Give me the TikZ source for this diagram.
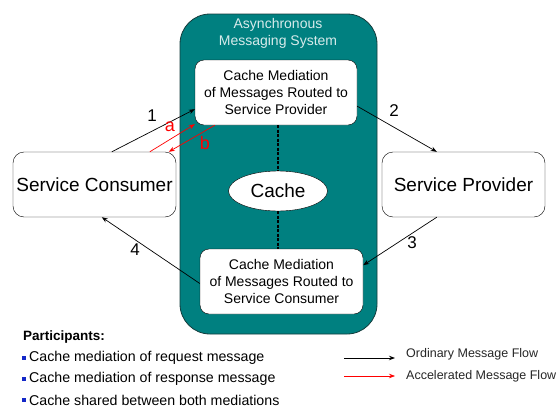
\documentclass[tikz,border=0pt]{standalone}
\usepackage{fontspec}
\setmainfont{Liberation Sans}
\usetikzlibrary{arrows.meta,calc,shapes.geometric}
\definecolor{sysfill}{RGB}{0,128,128}
\definecolor{sysedge}{RGB}{20,60,60}
\definecolor{systext}{RGB}{215,235,235}
\definecolor{bulletblue}{RGB}{20,40,200}
\begin{document}
\begin{tikzpicture}[x=1pt,y=-1pt,
  flow/.style={-{Stealth[length=6pt,width=4.5pt]}, line width=0.7pt},
  fast/.style={flow, red},
  medbox/.style={draw=black, fill=white, rounded corners=9pt, minimum width=162pt,
    minimum height=65pt, align=center, inner sep=0pt,
    font=\fontsize{14}{17}\selectfont},
  svcbox/.style={draw=black, fill=white, rounded corners=11pt, minimum width=163pt,
    minimum height=65pt, inner sep=0pt, font=\fontsize{19}{22}\selectfont},
  numlabel/.style={font=\fontsize{17}{20}\selectfont, inner sep=0pt},
  letlabel/.style={font=\fontsize{18}{20}\selectfont, text=red, inner sep=0pt},
  legtext/.style={anchor=west, inner sep=0pt, font=\fontsize{12.5}{15}\selectfont, text=black!85},
  parttext/.style={anchor=west, inner sep=0pt, font=\fontsize{14.2}{16}\selectfont},
  bullet/.style={fill=bulletblue, inner sep=0pt, minimum size=4pt}
]
\useasboundingbox (0,0) rectangle (558,407);

% messaging system container
\node[draw=sysedge, line width=0.8pt, fill=sysfill, rounded corners=30pt,
  minimum width=197pt, minimum height=320pt, inner sep=0pt] (sys) at (278.5,174) {};
\node[align=center, text=systext, font=\fontsize{14}{17}\selectfont, inner sep=0pt]
  (systitle) at (278,33) {Asynchronous\\Messaging System};

% mediation boxes and the shared cache
\node[medbox] (up) at (276,92.5) {Cache Mediation\\of Messages Routed to\\Service Provider};
\node[medbox, minimum width=163pt] (low) at (281.5,281.5) {Cache Mediation\\of Messages Routed to\\Service Consumer};
\node[ellipse, draw=black, fill=white, minimum width=99pt, minimum height=40pt,
  inner sep=0pt, font=\fontsize{19}{22}\selectfont] (cache) at (278,191) {Cache};
\draw[line width=1.6pt, dash pattern=on 3pt off 1.5pt] (cache.north |- up.south) -- (cache.north);
\draw[line width=1.6pt, dash pattern=on 3pt off 1.5pt] (cache.south) -- (cache.south |- low.north);

% services
\node[svcbox] (cons) at (94.5,184.5) {Service Consumer};
\node[svcbox] (prov) at (463.5,184.5) {Service Provider};

% ordinary message flow
\draw[flow] ([xshift=99pt]cons.north west) -- ([yshift=16pt]up.south west);
\draw[flow] ([yshift=19pt]up.south east) -- ([xshift=55pt]prov.north west);
\draw[flow] ([xshift=55pt]prov.south west) -- ([yshift=49pt]low.south east);
\draw[flow] ([yshift=-2pt]low.west) -- ([xshift=89pt]cons.south west);
\node[numlabel] (n1) at (152,116) {1};
\node[numlabel] (n2) at (394,111) {2};
\node[numlabel] (n3) at (412,243) {3};
\node[numlabel] (n4) at (135,250) {4};

% accelerated message flow
\draw[fast] ([xshift=137pt]cons.north west) -- ([yshift=1pt]up.south west);
\draw[fast] ([xshift=20pt]up.south west) -- ([xshift=156pt]cons.north west);
\node[letlabel] (la) at (170,127) {a};
\node[letlabel] (lb) at (205,143) {b};

% participants
\node[anchor=west, inner sep=0pt, font=\bfseries\fontsize{13.5}{16}\selectfont] (ptitle) at (23,337) {Participants:};
\node[bullet] (b1) at (24,358) {};
\node[bullet] (b2) at (24,379) {};
\node[bullet] (b3) at (24,400) {};
\node[parttext] (p1) at (29,358) {Cache mediation of request message};
\node[parttext] (p2) at (29,379) {Cache mediation of response message};
\node[parttext] (p3) at (29,400) {Cache shared between both mediations};

% legend
\coordinate (o1) at (344,358);
\coordinate (o2) at (395,358);
\coordinate (r1) at (344,376);
\coordinate (r2) at (395,376);
\draw[flow, line width=1pt] (o1) -- (o2);
\draw[fast] (r1) -- (r2);
\node[legtext] (lo) at (406,354) {Ordinary Message Flow};
\node[legtext] (lr) at (406,376) {Accelerated Message Flow};
\end{tikzpicture}
\end{document}
